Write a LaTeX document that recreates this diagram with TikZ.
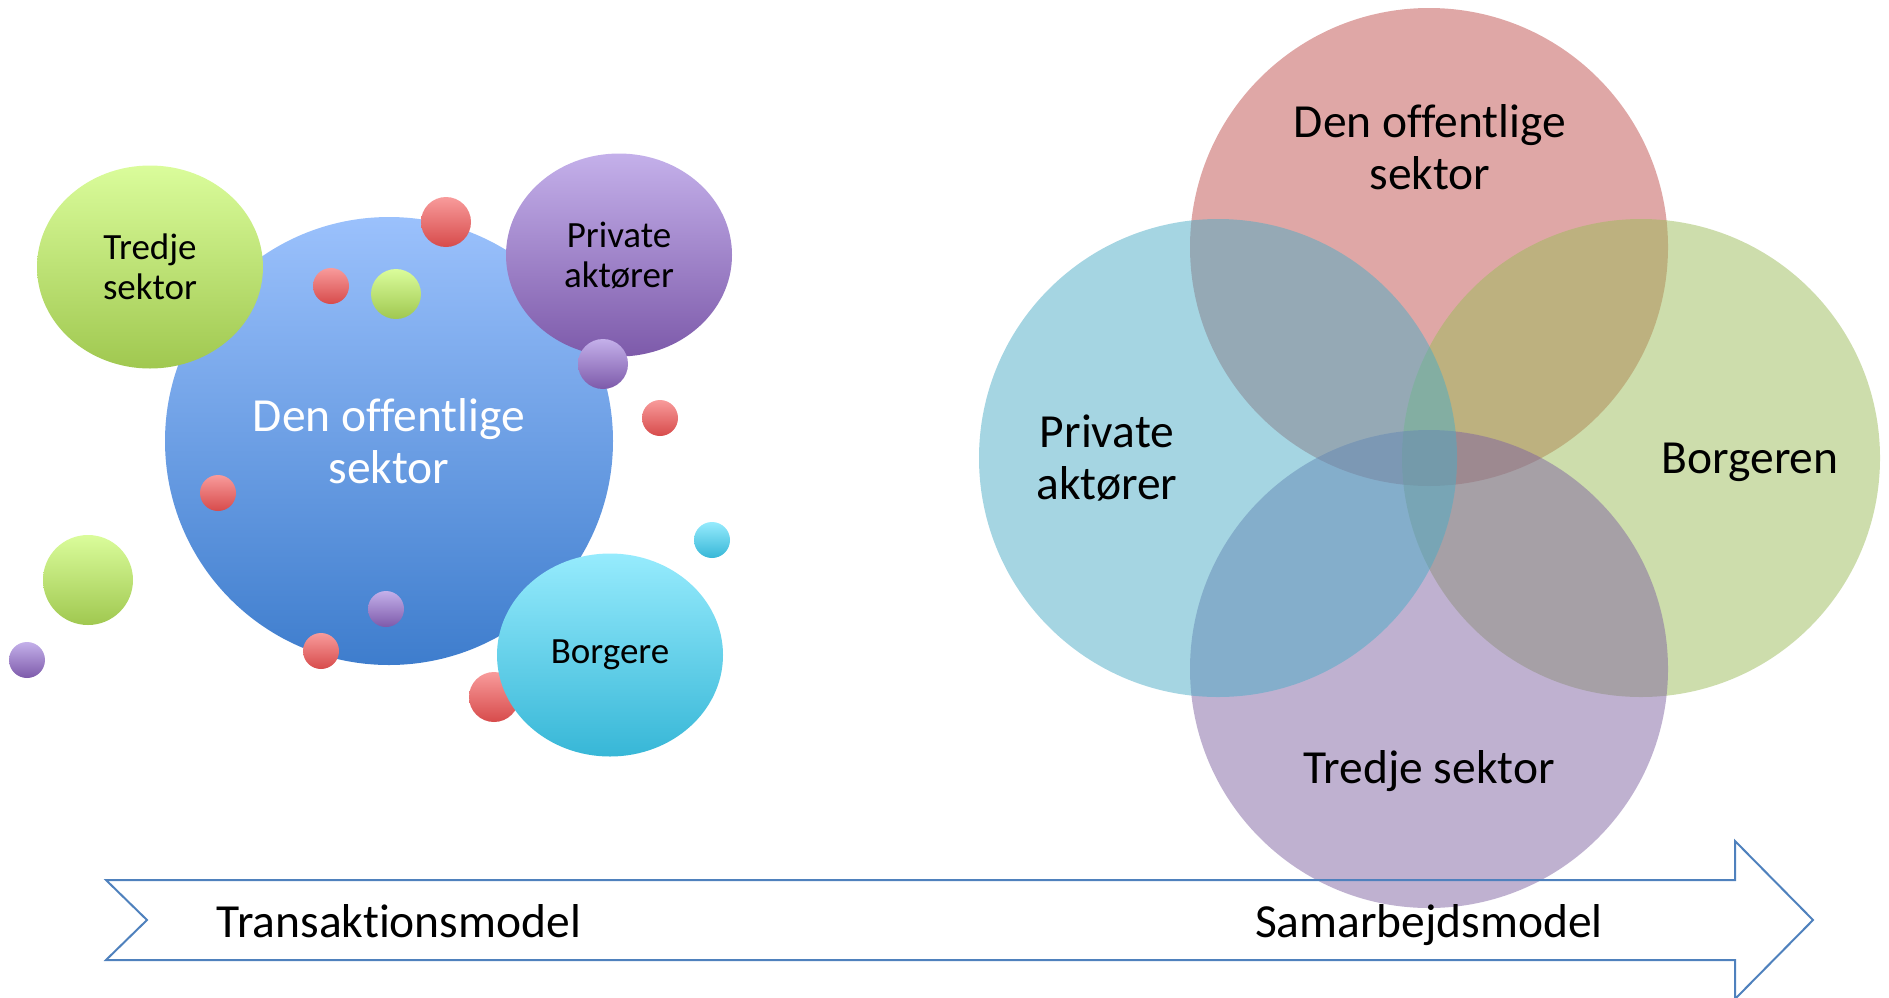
\documentclass[tikz,border=0pt]{standalone}
\usepackage{fontspec}
\setmainfont{Carlito}[Ligatures=NoCommon]
\usetikzlibrary{shapes.geometric}

% bubble gradients (top / bottom)
\definecolor{bTop}{RGB}{155,193,252}
\definecolor{bBot}{RGB}{62,125,205}
\definecolor{rTop}{RGB}{248,155,155}
\definecolor{rBot}{RGB}{215,75,75}
\definecolor{gTop}{RGB}{218,252,155}
\definecolor{gBot}{RGB}{160,200,80}
\definecolor{pTop}{RGB}{196,176,234}
\definecolor{pBot}{RGB}{125,90,170}
\definecolor{cTop}{RGB}{150,235,253}
\definecolor{cBot}{RGB}{55,183,215}
% overlapping circles
\definecolor{vRed}{RGB}{192,80,77}
\definecolor{vBlue}{RGB}{75,172,198}
\definecolor{vGreen}{RGB}{155,187,89}
\definecolor{vPurple}{RGB}{128,100,162}
\definecolor{arrowblue}{RGB}{79,129,189}

\newcommand\largelabel{\fontsize{23.75pt}{26pt}\selectfont}
\newcommand\smalllabel{\fontsize{18.5pt}{20pt}\selectfont}

\begin{document}
\begin{tikzpicture}[x=0.5pt,y=-0.5pt,
  bubble/.style={ellipse, inner sep=0pt, align=center,
                 minimum width=113pt, minimum height=101.5pt, font=\smalllabel},
  ball/.style={circle, inner sep=0pt, minimum size=#1},
  redg/.style={top color=rTop, bottom color=rBot},
  greeng/.style={top color=gTop, bottom color=gBot},
  purpleg/.style={top color=pTop, bottom color=pBot},
  cyang/.style={top color=cTop, bottom color=cBot},
  venn/.style={circle, inner sep=0pt, minimum size=239pt, fill opacity=0.5, fill=#1},
  vlabel/.style={align=center, font=\largelabel, inner sep=0pt},
  modellabel/.style={anchor=base, font=\largelabel, inner sep=0pt}
]
\useasboundingbox (0,0) rectangle (1889,997);

% ---------- transaction model: bubbles ----------
\node[ball=224pt, top color=bTop, bottom color=bBot, align=center,
      text=white, font=\largelabel] (pub) at (389,441) {Den offentlige\\sektor};
\node[bubble, greeng] (third) at (150,267) {Tredje\\sektor};
\node[bubble, purpleg] (priv) at (619,255) {Private\\aktører};

\node[ball=25pt, redg] (r1) at (446,222) {};
\node[ball=18pt, redg] (r2) at (331,286) {};
\node[ball=25pt, greeng] (g1) at (396,294) {};
\node[ball=25pt, purpleg] (p1) at (603,364) {};
\node[ball=18pt, redg] (r3) at (660,418) {};
\node[ball=18pt, redg] (r4) at (218,493) {};
\node[ball=18pt, cyang] (c1) at (712,540) {};
\node[ball=45pt, greeng] (g2) at (88,580) {};
\node[ball=18pt, purpleg] (p2) at (386,609) {};
\node[ball=18pt, redg] (r5) at (321,651) {};
\node[ball=18pt, purpleg] (p3) at (27,660) {};
\node[ball=25pt, redg] (r6) at (494,697) {};

\node[bubble, cyang] (cit) at (610,655) {\raisebox{-1.2pt}{Borgere}};

% ---------- collaboration model: overlapping circles ----------
\node[venn=vRed] (vpub) at (1429,247) {};
\node[venn=vGreen] (vcit) at (1641,458) {};
\node[venn=vPurple] (vthird) at (1429,669) {};
\node[venn=vBlue] (vpriv) at (1218,458) {};

\node[vlabel] (lpub) at (1430,147) {Den offentlige\\sektor};
\node[vlabel] (lpriv) at (1107,458) {Private\\aktører};
\node[vlabel] (lcit) at (1750,462) {Borgeren};
\node[vlabel] (lthird) at (1429,771) {Tredje sektor};

% ---------- arrow from one model to the other ----------
\draw[arrowblue, line width=1pt, line join=miter]
  (106,880) -- (1735,880) -- (1735,841) -- (1813,920) -- (1735,999)
  -- (1735,960) -- (106,960) -- (147,920) -- cycle;

\node[modellabel] (trans) at (399,937) {Transaktionsmodel};
\node[modellabel] (collab) at (1429,937) {Samarbejdsmodel};
\end{tikzpicture}
\end{document}
